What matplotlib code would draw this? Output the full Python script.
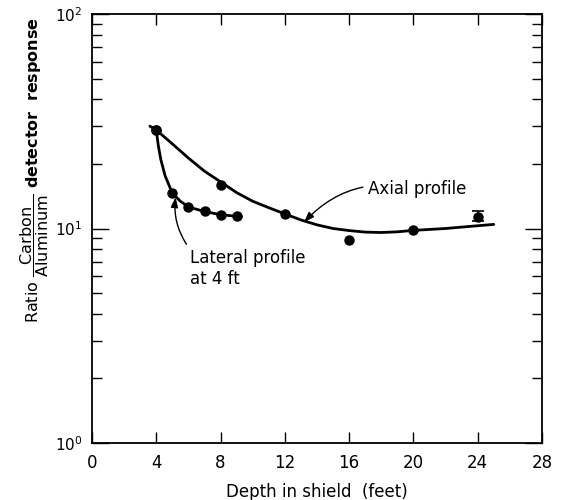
import matplotlib
matplotlib.use("Agg")
import matplotlib.pyplot as plt
from matplotlib.ticker import LogLocator, FixedLocator, NullFormatter

plt.rcParams['font.family'] = ['DejaVu Sans']
plt.rcParams['mathtext.default'] = 'regular'

# Axial profile measured points
axial_x = [4, 8, 12, 16, 20, 24]
axial_y = [28.8, 15.9, 11.7, 8.85, 9.84, 11.3]
# error bar on last axial point
err_x = [24]
err_y = [11.3]
err_lo = [10.8]
err_hi = [12.1]

# Axial profile drawn curve
axial_curve_x = [3.6, 4, 5, 6, 7, 8, 9, 10, 11, 12, 13, 14, 15, 16, 17, 18, 19, 20, 21, 22, 23, 24, 25]
axial_curve_y = [30.0, 28.8, 24.8, 21.3, 18.5, 16.5, 14.7, 13.4, 12.5, 11.7, 10.96, 10.4, 10.0, 9.78, 9.62, 9.58, 9.65, 9.8, 9.9, 10.0, 10.15, 10.3, 10.45]

# Lateral profile at 4 ft
lat_x = [4, 5, 6, 7, 8, 9]
lat_y = [28.8, 14.6, 12.56, 12.1, 11.5, 11.4]
lat_curve_x = [4, 4.12, 4.28, 4.55, 5, 5.5, 6, 7, 8, 9, 9.3]
lat_curve_y = [28.8, 24.5, 21.0, 17.6, 14.6, 13.4, 12.6, 12.0, 11.6, 11.4, 11.35]

xticks = [0, 4, 8, 12, 16, 20, 24, 28]

fig = plt.figure(figsize=(5.61, 5.00), dpi=100)
ax = fig.add_axes([92/561, 57/500, 450/561, 429/500])

ax.plot(axial_curve_x, axial_curve_y, color='black', lw=2.0, solid_capstyle='round')
ax.plot(lat_curve_x, lat_curve_y, color='black', lw=2.0, solid_capstyle='round')
ax.plot(axial_x, axial_y, 'o', color='black', ms=6.5)
ax.plot(lat_x, lat_y, 'o', color='black', ms=6.5)
ax.errorbar(err_x, err_y,
            yerr=[[err_y[0] - err_lo[0]], [err_hi[0] - err_y[0]]],
            fmt='none', ecolor='black', elinewidth=1.2, capsize=4, capthick=1.2)

ax.set_yscale('log')
ax.set_xlim(0, 28)
ax.set_ylim(1, 100)
ax.xaxis.set_major_locator(FixedLocator(xticks))
ax.set_xticklabels([str(t) for t in xticks])
ax.yaxis.set_major_locator(LogLocator(base=10, numticks=5))
ax.yaxis.set_minor_locator(LogLocator(base=10, subs=range(2, 10), numticks=20))
ax.yaxis.set_minor_formatter(NullFormatter())

ax.tick_params(axis='both', which='both', direction='in', top=True, right=True,
               width=1.0, color='black')
ax.tick_params(axis='x', which='major', length=8, pad=8, labelsize=12)
ax.tick_params(axis='y', which='major', length=12, pad=7, labelsize=11)
ax.tick_params(axis='y', which='minor', length=7)
for s in ax.spines.values():
    s.set_linewidth(1.3)

ax.set_xlabel('Depth in shield  (feet)', fontsize=12, labelpad=8)

fig.text(35/561, 1 - 170/500,
         r'Ratio $\dfrac{Carbon}{Aluminum}$ $\mathbf{detector\ \ response}$',
         rotation=90, ha='center', va='center', fontsize=11.5)

ax.annotate('Axial profile', xy=(13.2, 10.7), xytext=(17.2, 15.2),
            fontsize=12, ha='left', va='center',
            arrowprops=dict(arrowstyle='-|>,head_length=0.5,head_width=0.18',
                            color='black', lw=1.0,
                            connectionstyle='arc3,rad=0.3',
                            shrinkA=2, shrinkB=0))
ax.annotate('Lateral profile\nat 4 ft', xy=(5.2, 14.0), xytext=(6.1, 8.0),
            fontsize=12, ha='left', va='top', linespacing=1.2,
            arrowprops=dict(arrowstyle='-|>,head_length=0.5,head_width=0.18',
                            color='black', lw=1.0,
                            connectionstyle='arc3,rad=-0.2',
                            shrinkA=2, shrinkB=0, relpos=(0.0, 1.0)))

fig.savefig('out.png', dpi=100)
